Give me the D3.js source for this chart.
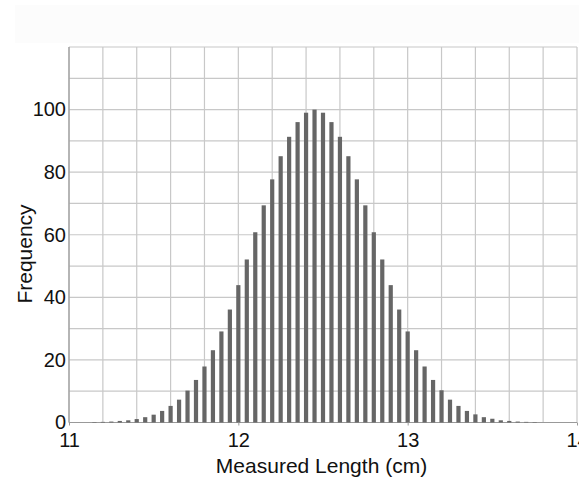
<!DOCTYPE html>
<html>
<head>
<meta charset="utf-8">
<script src="https://cdn.jsdelivr.net/npm/d3@7"></script>
<style>
  body { margin: 0; background: #fff; }
  text { font-family: "Liberation Sans", Arial, Helvetica, sans-serif; fill: #111; }
</style>
</head>
<body>
<div id="vis1"></div>
<script>
(function(){
  // bin centres (cm) and counts
  var lengths = [11.15, 11.20, 11.25, 11.30, 11.35, 11.40, 11.45, 11.50, 11.55, 11.60,
                 11.65, 11.70, 11.75, 11.80, 11.85, 11.90, 11.95, 12.00, 12.05, 12.10,
                 12.15, 12.20, 12.25, 12.30, 12.35, 12.40, 12.45, 12.50, 12.55, 12.60,
                 12.65, 12.70, 12.75, 12.80, 12.85, 12.90, 12.95, 13.00, 13.05, 13.10,
                 13.15, 13.20, 13.25, 13.30, 13.35, 13.40, 13.45, 13.50, 13.55, 13.60,
                 13.65, 13.70, 13.75];
  var frequency = [0.15, 0.2, 0.3, 0.5, 0.7, 1.1, 1.7, 2.5, 3.7, 5.3,
                   7.3, 10.2, 13.6, 17.9, 23.1, 29.1, 36.1, 43.9, 52.1, 60.8,
                   69.4, 77.7, 85.1, 91.3, 96.0, 99.0, 100, 99.0, 96.0, 91.3,
                   85.1, 77.7, 69.4, 60.8, 52.1, 43.9, 36.1, 29.1, 23.1, 17.9,
                   13.6, 10.3, 7.3, 5.3, 3.7, 2.6, 1.7, 1.2, 0.7, 0.5,
                   0.3, 0.2, 0.15];
  var x_ticks = [11, 12, 13, 14];
  var y_ticks = [0, 20, 40, 60, 80, 100];

  var data = lengths.map(function(d, i) { return {len: d, freq: frequency[i]}; });

  var width = 579;
  var height = 481;

  var margin = {
    top: 47,
    left: 69,
    bottom: 58.5,
    right: 2
  }

  var root = d3.select("#vis1")
    .append('svg')
    .attr('width', width)
    .attr('height', height);

  // faint scan-like patch at the top of the original
  root.append('rect')
    .attr('x', 15).attr('y', 5)
    .attr('width', width - 15).attr('height', 38)
    .attr('fill', '#fcfcfc');

  var svg = root.append('g')
    .attr('transform', 'translate(' + margin.left + ',' + margin.top +')');

  width = width - margin.left - margin.right;
  height = height - margin.top - margin.bottom;

  var x_scale = d3.scaleLinear()
    .range([0, width])
    .domain([11, 14]);

  var y_scale = d3.scaleLinear()
    .range([height, 0])
    .domain([0, 120]);

  // grid
  svg.selectAll('.vgrid')
    .data(d3.range(0, 16).map(function(i){ return 11 + i * 0.2; }))
    .enter()
    .append('line')
    .attr('class', 'vgrid')
    .attr('x1', function(d){ return x_scale(d); })
    .attr('x2', function(d){ return x_scale(d); })
    .attr('y1', 0)
    .attr('y2', height)
    .attr('stroke', '#c8c8c8')
    .attr('stroke-width', 1.2);

  svg.selectAll('.hgrid')
    .data(d3.range(0, 130, 10))
    .enter()
    .append('line')
    .attr('class', 'hgrid')
    .attr('x1', 0)
    .attr('x2', width)
    .attr('y1', function(d){ return y_scale(d); })
    .attr('y2', function(d){ return y_scale(d); })
    .attr('stroke', '#c8c8c8')
    .attr('stroke-width', 1.2);

  // axis lines
  svg.append('line')
    .attr('x1', 0).attr('x2', 0)
    .attr('y1', 0).attr('y2', height)
    .attr('stroke', '#999').attr('stroke-width', 1.2);

  svg.append('line')
    .attr('x1', 0).attr('x2', width)
    .attr('y1', height).attr('y2', height)
    .attr('stroke', '#999').attr('stroke-width', 1.2);

  // bars
  var barW = 4.2;
  svg.selectAll('.bar')
    .data(data)
    .enter()
    .append('rect')
    .attr('class', 'bar')
    .attr('fill', '#666')
    .attr('x', function(d){ return x_scale(d.len) - barW / 2; })
    .attr('width', barW)
    .attr('y', function(d){ return y_scale(d.freq); })
    .attr('height', function(d){ return height - y_scale(d.freq); });

  var x_axis = d3.axisBottom(x_scale)
    .tickValues(x_ticks)
    .tickSize(3)
    .tickFormat(d3.format('d'));

  var y_axis = d3.axisLeft(y_scale)
    .tickValues(y_ticks)
    .tickSize(0)
    .tickPadding(3);

  var gx = svg.append('g')
    .attr('transform', 'translate(0, ' + height +')')
    .attr('class','x axis')
    .call(x_axis);
  gx.select('.domain').remove();
  gx.selectAll('line').attr('stroke', '#999');
  gx.selectAll('text')
    .attr('dy', 0)
    .attr('y', 24.5)
    .style('font-size', '20px');

  var gy = svg.append('g')
    .attr('class', 'y axis')
    .call(y_axis);
  gy.select('.domain').remove();
  gy.selectAll('text')
    .style('font-size', '20px');

// Axis labels
  svg.append("text")
    .attr("text-anchor", "middle")
    .attr("transform", "rotate(-90)")
    .attr("y", -37)
    .attr("x", -(254 - margin.top))
    .style('font-size', '21px')
    .text("Frequency");

  svg.append("text")
    .attr("text-anchor", "middle")
    .attr('y', 473 - margin.top)
    .attr("x", 321.5 - margin.left)
    .style('font-size', '21px')
    .text("Measured Length (cm)");

})();
</script>
</body>
</html>
